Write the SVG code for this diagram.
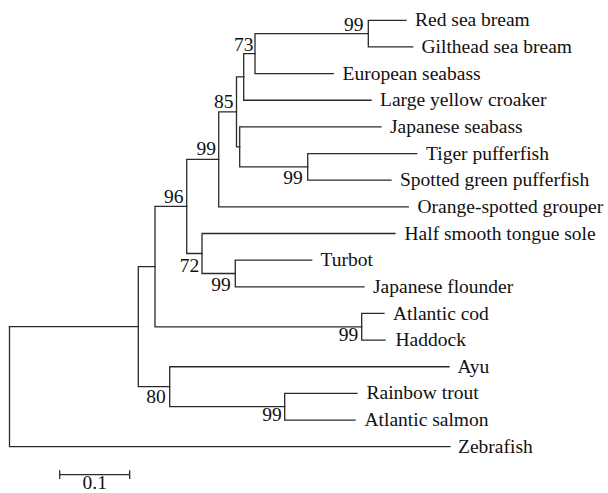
<svg xmlns="http://www.w3.org/2000/svg" width="608" height="493" viewBox="0 0 608 493">
<style>
.br{fill:none;stroke:#2a2a2a;stroke-width:1.3;stroke-linecap:square}
text{font-family:'Liberation Serif','DejaVu Serif',serif;font-size:19.5px;fill:#111}
.bs{text-anchor:end}
</style>
<rect width="608" height="493" fill="#fff"/>
<g id="connectors">
<path class="br" d="M9.5,326.7V446.7H450"/>
<path class="br" d="M9.5,326.7H138.3"/>
<path class="br" d="M138.3,266.6V386.7M138.3,266.6H155M138.3,386.7H169.7"/>
<path class="br" d="M155,206.4V326.8M155,206.4H186.7M155,326.8H361.7"/>
<path class="br" d="M186.7,159.4V253.5M186.7,159.4H218.7M186.7,253.5H202"/>
<path class="br" d="M218.7,111.9V206.85M218.7,111.9H236.5M218.7,206.85H408.3"/>
<path class="br" d="M236.5,76.9V146.9M236.5,76.9H243.7M236.5,146.9H239.7"/>
<path class="br" d="M243.7,53.6V100.25M243.7,53.6H255M243.7,100.25H371"/>
<path class="br" d="M255,33.6V73.6M255,33.6H368.3M255,73.6H333.3"/>
<path class="br" d="M368.3,20.3V46.95M368.3,20.3H406M368.3,46.95H412.7"/>
<path class="br" d="M239.7,126.9V166.9M239.7,126.9H381M239.7,166.9H307.7"/>
<path class="br" d="M307.7,153.55V180.2M307.7,153.55H416.7M307.7,180.2H391"/>
<path class="br" d="M202,233.5V273.5M202,233.5H395M202,273.5H235.3"/>
<path class="br" d="M235.3,260.15V286.8M235.3,260.15H311.7M235.3,286.8H364"/>
<path class="br" d="M361.7,313.45V340.1M361.7,313.45H384M361.7,340.1H385"/>
<path class="br" d="M169.7,366.75V406.7M169.7,366.75H449M169.7,406.7H284.7"/>
<path class="br" d="M284.7,393.4V420.05M284.7,393.4H357M284.7,420.05H355"/>
</g>
<g id="leaf-red-sea-bream"><text font-family="Liberation Serif, serif" x="415" y="26.3">Red sea bream</text></g>
<g id="leaf-gilthead-sea-bream"><text x="421.5" y="53">Gilthead sea bream</text></g>
<g id="leaf-european-seabass"><text x="342.5" y="79.6">European seabass</text></g>
<g id="leaf-large-yellow-croaker"><text x="380" y="106.3">Large yellow croaker</text></g>
<g id="leaf-japanese-seabass"><text x="390" y="132.9">Japanese seabass</text></g>
<g id="leaf-tiger-pufferfish"><text x="426" y="159.6">Tiger pufferfish</text></g>
<g id="leaf-spotted-green-pufferfish"><text x="400" y="186.2">Spotted green pufferfish</text></g>
<g id="leaf-orange-spotted-grouper"><text x="417.5" y="212.9">Orange-spotted grouper</text></g>
<g id="leaf-half-smooth-tongue-sole"><text x="404.5" y="239.5">Half smooth tongue sole</text></g>
<g id="leaf-turbot"><text x="320.5" y="266.2">Turbot</text></g>
<g id="leaf-japanese-flounder"><text x="373" y="292.8">Japanese flounder</text></g>
<g id="leaf-atlantic-cod"><text x="393" y="319.5">Atlantic cod</text></g>
<g id="leaf-haddock"><text x="395.5" y="346.1">Haddock</text></g>
<g id="leaf-ayu"><text x="457.5" y="372.8">Ayu</text></g>
<g id="leaf-rainbow-trout"><text x="366.5" y="399.4">Rainbow trout</text></g>
<g id="leaf-atlantic-salmon"><text x="364.5" y="426">Atlantic salmon</text></g>
<g id="leaf-zebrafish"><text x="458" y="452.7">Zebrafish</text></g>
<g id="bootstrap">
<text class="bs" x="363.5" y="30.7">99</text>
<text class="bs" x="253.5" y="50.7">73</text>
<text class="bs" x="233.5" y="108.3">85</text>
<text class="bs" x="216" y="155">99</text>
<text class="bs" x="183.5" y="202.7">96</text>
<text class="bs" x="302.7" y="184.3">99</text>
<text class="bs" x="199.3" y="271.7">72</text>
<text class="bs" x="230.7" y="291">99</text>
<text class="bs" x="358.3" y="341">99</text>
<text class="bs" x="165.7" y="403.3">80</text>
<text class="bs" x="281.7" y="421">99</text>
</g>
<g id="scale-bar">
<path class="br" d="M59.7,474.7H129.7M59.7,471V478.4M129.7,471V478.4"/>
<text x="94.7" y="489" text-anchor="middle">0.1</text>
</g>
</svg>
